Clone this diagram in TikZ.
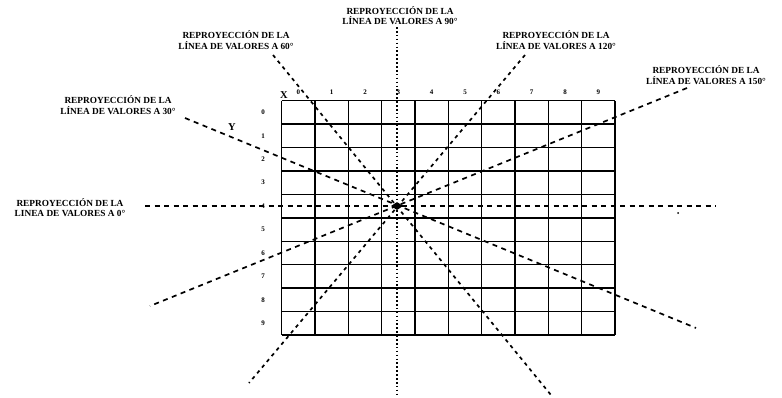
\documentclass[tikz,border=0pt]{standalone}
\usepackage{fontspec}
\setmainfont{Liberation Serif}
\usetikzlibrary{shapes.geometric}
\begin{document}
\begin{tikzpicture}[x=1pt,y=-1pt,
  lbl/.style={font=\fontsize{9.3}{10.8}\selectfont\bfseries, align=center, inner sep=0pt},
  num/.style={font=\fontsize{7}{7.5}\selectfont\bfseries, inner sep=0pt},
  axis/.style={font=\fontsize{10.5}{11}\selectfont\bfseries, inner sep=0pt},
  gridln/.style={line width=1.5pt},
  dashln/.style={line width=1.7pt, dash pattern=on 5pt off 4.5pt},
  shortdash/.style={line width=1.7pt, dash pattern=on 3.5pt off 4pt},
  dotln/.style={line width=1.8pt, dash pattern=on 1.6pt off 2.3pt}]
\useasboundingbox (0,0) rectangle (782,397);
% grid
\foreach \i in {0,...,10} {
  \draw[gridln] ({281.7+33.33*\i},100.7) -- ({281.7+33.33*\i},335);
  \draw[gridln] (281.7,{100.7+23.43*\i}) -- (615,{100.7+23.43*\i});
}
\foreach \i in {0,...,9} {
  \node[num] (c\i) at ({298.4+33.33*\i},92.5) {\i};
  \node[num] (r\i) at (263,{112.4+23.43*\i}) {\i};
}
\node[axis] (X) at (284,95) {X};
\node[axis] (Y) at (232,127) {Y};
% end coordinates
\coordinate (a90) at (397,27);   \coordinate (b90) at (397,397);
\coordinate (a60) at (273,55);   \coordinate (b60) at (551,395);
\coordinate (a120) at (525,55);  \coordinate (b120) at (249,383);
\coordinate (a150) at (687,88);  \coordinate (b150) at (150,306);
\coordinate (a30) at (185,118);  \coordinate (b30) at (696,328);
\coordinate (a0) at (145,206);   \coordinate (b0) at (716,206);
% lines
\draw[dotln] (a90) -- (b90);
\draw[shortdash] (a60) -- (b60);
\draw[shortdash] (a120) -- (b120);
\draw[dashln] (a150) -- (b150);
\draw[dashln] (a30) -- (b30);
\draw[dashln] (a0) -- (b0);
% centre
\node[diamond, fill=black, inner sep=0pt, minimum width=12pt, minimum height=8pt] (ctr) at (397,206) {};
\fill (678,213) circle (1);
% labels
\node[lbl] (l90) at (400,15.5) {REPROYECCIÓN DE LA\\LÍNEA DE VALORES A 90°};
\node[lbl] (l60) at (236,40) {REPROYECCIÓN DE LA\\LÍNEA DE VALORES A 60°};
\node[lbl] (l120) at (556,40) {REPROYECCIÓN DE LA\\LÍNEA DE VALORES A 120°};
\node[lbl] (l150) at (706,75) {REPROYECCIÓN DE LA\\LÍNEA DE VALORES A 150°};
\node[lbl] (l30) at (118,105) {REPROYECCIÓN DE LA\\LÍNEA DE VALORES A 30°};
\node[lbl] (l0) at (70,207.5) {REPROYECCIÓN DE LA\\LINEA DE VALORES A 0°};
\end{tikzpicture}
\end{document}
